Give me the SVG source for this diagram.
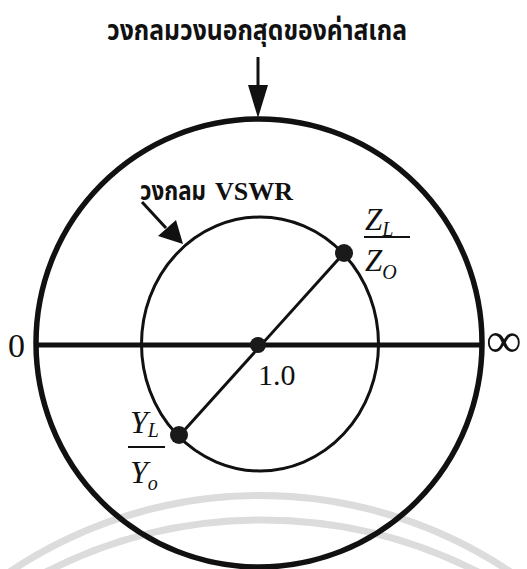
<svg xmlns="http://www.w3.org/2000/svg" width="527" height="569" viewBox="0 0 527 569">
<style>
.thai{font-family:"Noto Sans Thai","Noto Sans","DejaVu Sans",sans-serif;font-weight:bold;fill:#111}
.serif{font-family:"Liberation Serif","DejaVu Serif",serif;fill:#111}
.ital{font-family:"Liberation Serif","DejaVu Serif",serif;font-style:italic;fill:#111}
.wm{fill:none;stroke:#dcdcdc;stroke-width:7}
.dot{fill:#1a1a1a}
</style>
<rect width="527" height="569" fill="#fff"/>
<g id="watermark">
<path class="wm" d="M5,575 A449,449 0 0 1 515,575"/>
<path class="wm" d="M40,575 A475,475 0 0 1 484,575"/>
</g>
<g id="outer-circle">
<ellipse cx="259" cy="343" rx="223" ry="224" fill="none" stroke="#111" stroke-width="5.5"/>
</g>
<g id="vswr-circle">
<ellipse cx="260" cy="344" rx="118.5" ry="127" fill="none" stroke="#111" stroke-width="3"/>
</g>
<g id="connectors">
<line x1="37" y1="345" x2="481" y2="345" stroke="#111" stroke-width="5"/>
<line x1="180" y1="435" x2="344" y2="253" stroke="#111" stroke-width="3"/>
<line x1="258" y1="57" x2="258" y2="90" stroke="#111" stroke-width="3"/>
<path d="M248,85 L268,85 L258,118 z" fill="#111"/>
<line x1="142" y1="202" x2="166" y2="228" stroke="#111" stroke-width="3"/>
<path d="M158,236 L176,220 L183,244 z" fill="#111"/>
</g>
<g id="center-point">
<circle class="dot" cx="258" cy="345" r="8"/>
<text class="serif" x="258" y="385" font-size="30">1.0</text>
</g>
<g id="zl-point">
<circle class="dot" cx="344" cy="253" r="9"/>
<text class="ital" x="365" y="230" font-size="31">Z<tspan font-size="20" dy="6">L</tspan></text>
<line x1="364" y1="237" x2="410" y2="237" stroke="#111" stroke-width="2"/>
<text class="ital" x="365" y="271" font-size="31">Z<tspan font-size="20" dy="8">O</tspan></text>
</g>
<g id="yl-point">
<circle class="dot" cx="179" cy="435" r="9"/>
<text class="ital" x="130" y="433" font-size="32">Y<tspan font-size="20" dy="4">L</tspan></text>
<line x1="128" y1="447" x2="165" y2="447" stroke="#111" stroke-width="2"/>
<text class="ital" x="130" y="483" font-size="32">Y<tspan font-size="20" dy="7">o</tspan></text>
</g>
<g id="labels">
<text class="thai" x="257" y="40" font-size="28" text-anchor="middle" textLength="300" lengthAdjust="spacingAndGlyphs">วงกลมวงนอกสุดของค่าสเกล</text>
<text class="thai" x="140" y="200" font-size="26" textLength="66" lengthAdjust="spacingAndGlyphs">วงกลม</text>
<text class="serif" x="215" y="200" font-size="26" font-weight="bold">VSWR</text>
<text class="serif" x="8" y="357" font-size="34">0</text>
<text class="serif" x="486" y="357" font-size="50">∞</text>
</g>
</svg>
